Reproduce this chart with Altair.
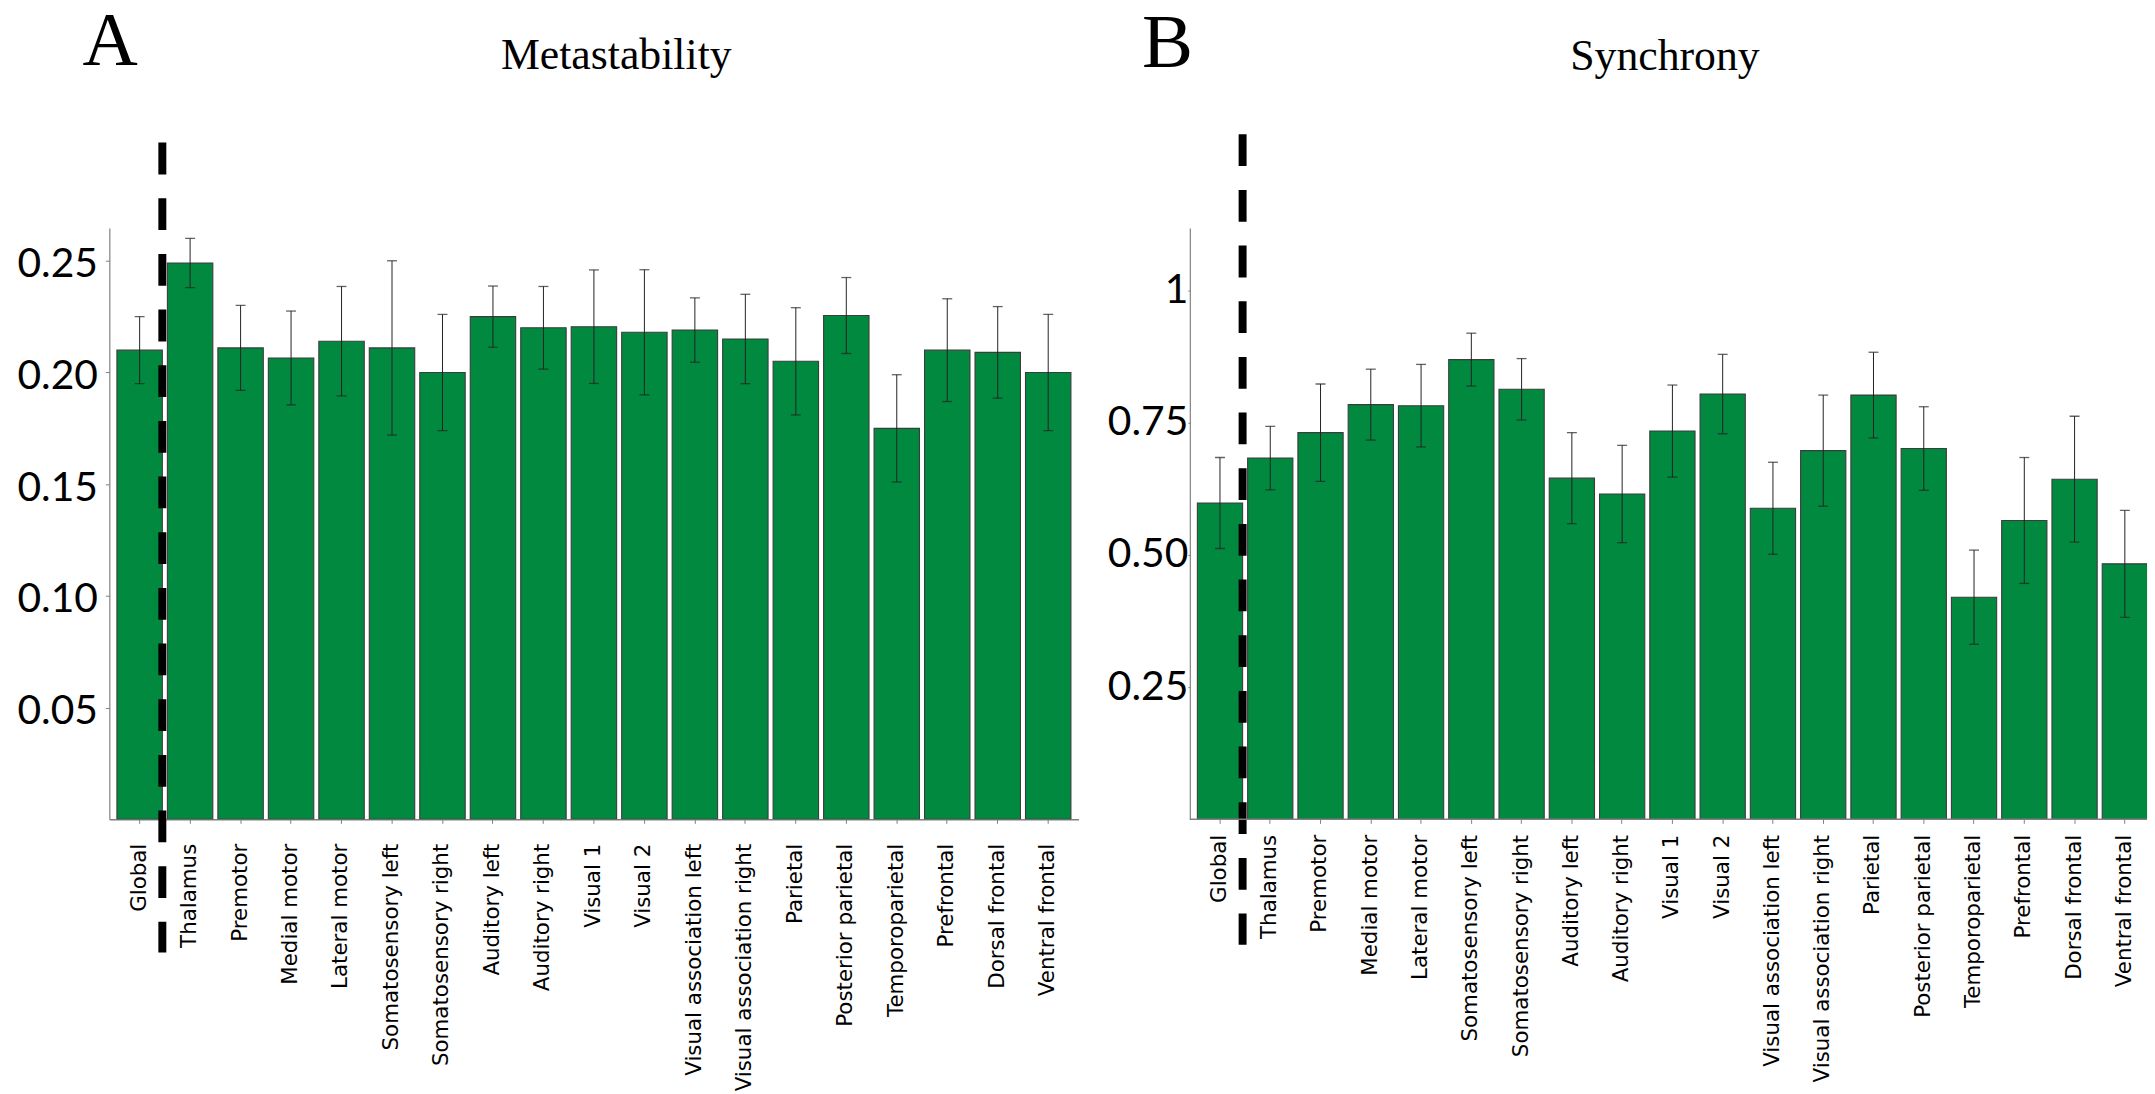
import altair as alt
import pandas as pd

# Brain regions, in plotting order
regions = [
    "Global", "Thalamus", "Premotor", "Medial motor", "Lateral motor",
    "Somatosensory left", "Somatosensory right", "Auditory left", "Auditory right",
    "Visual 1", "Visual 2", "Visual association left", "Visual association right",
    "Parietal", "Posterior parietal", "Temporoparietal", "Prefrontal",
    "Dorsal frontal", "Ventral frontal",
]

# Metastability: mean and error per region
meta_mean = [0.210, 0.249, 0.211, 0.2065, 0.214, 0.211, 0.200, 0.225, 0.220, 0.2205,
             0.218, 0.219, 0.215, 0.205, 0.2255, 0.175, 0.210, 0.209, 0.200]
meta_err = [0.015, 0.011, 0.019, 0.021, 0.0245, 0.039, 0.026, 0.0137, 0.0185, 0.0254,
            0.028, 0.0144, 0.020, 0.024, 0.017, 0.024, 0.023, 0.0205, 0.026]

# Synchrony: mean and error per region
sync_mean = [0.598, 0.683, 0.731, 0.784, 0.782, 0.869, 0.813, 0.645, 0.615, 0.734,
             0.804, 0.588, 0.697, 0.802, 0.701, 0.420, 0.565, 0.643, 0.483]
sync_err = [0.086, 0.060, 0.092, 0.067, 0.078, 0.050, 0.058, 0.086, 0.092, 0.087,
            0.075, 0.087, 0.105, 0.081, 0.079, 0.089, 0.119, 0.119, 0.101]

meta_ticks = [0.05, 0.10, 0.15, 0.20, 0.25]
sync_ticks = [0.25, 0.50, 0.75, 1.0]

GREEN = "#00893F"
AXIS_GREY = "#808080"
PLOT_H = 595


def make_frame(mean, err):
    return pd.DataFrame({
        "region": regions,
        "value": mean,
        "lo": [m - e for m, e in zip(mean, err)],
        "hi": [m + e for m, e in zip(mean, err)],
    })


def label(text, size, align, x, y):
    """A free-standing heading drawn at a pixel offset from the plot origin."""
    return alt.Chart(pd.DataFrame({"t": [text]})).mark_text(
        font="Liberation Serif", fontSize=size, fontWeight="normal", color="black",
        align=align, baseline="alphabetic",
    ).encode(text="t:N", x=alt.value(x), y=alt.value(y))


def panel(mean, err, letter, title, ymax, ticks, label_expr, y_align, y_tick, y_pad,
          y_shift, x_pad, letter_x, letter_y, title_x, title_y, divider_top,
          divider_bottom, view_width, band_span):
    df = make_frame(mean, err)
    cropped = view_width < band_span
    xscale = alt.Scale(domain=regions, range=[0, band_span],
                       paddingInner=0.1, paddingOuter=0.15)
    yscale = alt.Scale(domain=[0, ymax], nice=False, zero=True)

    x_axis = alt.Axis(
        title=None, labelAngle=-90, labelFont="DejaVu Sans", labelFontSize=21.5,
        labelColor="black", tickSize=4, tickColor=AXIS_GREY, domain=not cropped,
        domainColor=AXIS_GREY, domainWidth=1.5, labelPadding=x_pad, labelLimit=400,
    )
    y_axis = alt.Axis(
        title=None, values=ticks, labelExpr=label_expr, labelFont="Lato",
        labelFontSize=41, labelColor="black", grid=False, labelOffset=y_shift,
        labelAlign=y_align, tickSize=y_tick, tickColor=AXIS_GREY,
        domainColor=AXIS_GREY, domainWidth=1.2, labelPadding=y_pad,
    )

    def xenc(**kw):
        return alt.X("region:N", scale=xscale, sort=None, axis=x_axis, **kw)

    def yenc(field):
        return alt.Y(field, scale=yscale, axis=y_axis)

    base = alt.Chart(df)
    bars = base.mark_bar(color=GREEN, stroke="#3c3c3c", strokeWidth=1.1, clip=True).encode(
        x=xenc(), y=yenc("value:Q"),
    )
    whisker = base.mark_rule(color="#222222", strokeWidth=1, clip=True).encode(
        x=xenc(), y=yenc("lo:Q"), y2="hi:Q",
    )
    cap_lo = base.mark_tick(color="#222222", thickness=1.3, size=10, orient="horizontal",
                            clip=True).encode(x=xenc(), y=yenc("lo:Q"))
    cap_hi = base.mark_tick(color="#222222", thickness=1.3, size=10, orient="horizontal",
                            clip=True).encode(x=xenc(), y=yenc("hi:Q"))
    # Dashed divider after the whole-brain bar
    divider = alt.Chart(pd.DataFrame({"region": [regions[0]]})).mark_rule(
        color="black", strokeWidth=8, strokeDash=[32, 24], strokeCap="butt", clip=False
    ).encode(
        x=xenc(bandPosition=1),
        y=alt.datum(divider_top, scale=yscale, axis=y_axis),
        y2=alt.datum(divider_bottom),
    )

    heading = label(title, 44, "center", title_x, title_y)
    panel_letter = label(letter, 77, "left", letter_x, letter_y)

    layers = [bars, whisker, cap_lo, cap_hi, divider, heading, panel_letter]
    if cropped:
        # x baseline drawn across the visible width only
        baseline = alt.Chart(pd.DataFrame({"v": [0.0]})).mark_rule(
            color=AXIS_GREY, strokeWidth=1.5
        ).encode(x=alt.value(0), x2=alt.value("width"), y=yenc("v:Q"))
        layers.append(baseline)

    return alt.layer(*layers).properties(width=view_width, height=PLOT_H)


meta = panel(
    meta_mean, meta_err, "A", "Metastability", 0.2647, meta_ticks,
    "format(datum.value, '.2f')", "left", 4, 89, 4, 20,
    -27, -164, 510, -160,
    0.3029, -0.0596, 975, 975,
)
sync = panel(
    sync_mean, sync_err, "B", "Synchrony", 1.118, sync_ticks,
    "datum.value == 1 ? '1' : format(datum.value, '.2f')", "right", 2, 0, 0, 11,
    -48, -162, 478, -159,
    1.2951, -0.2368, 963, 971,
)

chart = (
    alt.hconcat(meta, sync, spacing=112, bounds="flush")
    .configure(background="white", padding={"left": 17, "top": 0, "right": 0, "bottom": 0})
    .configure_view(strokeWidth=0)
)

chart.save("out.html", embed_options={"renderer": "svg", "actions": False})
